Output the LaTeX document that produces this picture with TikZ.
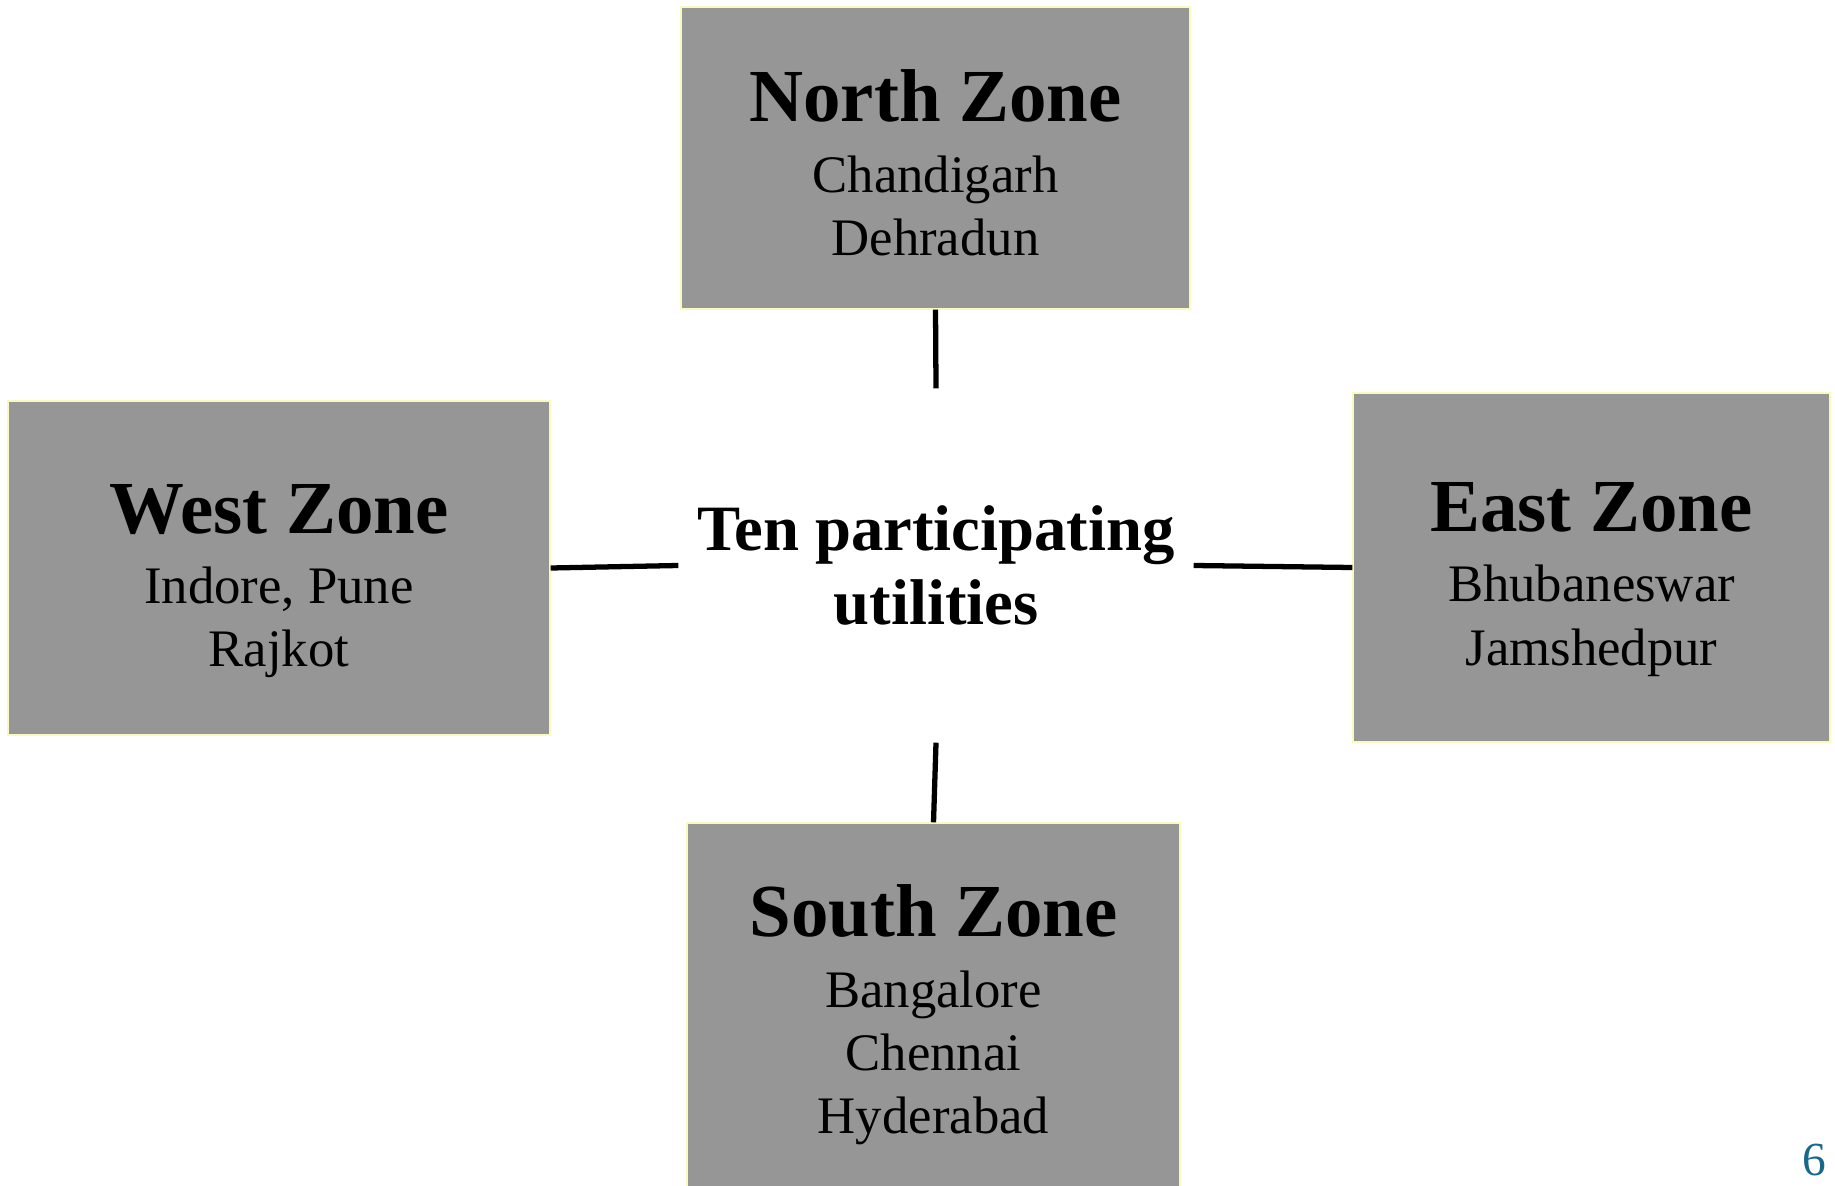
\documentclass[tikz,border=0pt]{standalone}
\usepackage{fontspec}
\setmainfont{Liberation Serif}
\usepackage{xcolor}
\usepackage{tikz}
\usetikzlibrary{positioning}

\definecolor{zonegray}{RGB}{150,150,150}
\definecolor{zoneedge}{RGB}{250,250,190}
\definecolor{pageblue}{RGB}{22,104,140}

\newcommand{\zonetitle}[1]{{\fontsize{21.3}{25}\selectfont\bfseries #1}\\[2pt]}

\begin{document}
\begin{tikzpicture}[x=0.1mm, y=-0.1mm,
    zonebox/.style={fill=zonegray, draw=zoneedge, line width=0.4pt,
      inner sep=0pt},
    zonetext/.style={align=center, inner sep=0pt,
      font=\fontsize{15}{18}\selectfont},
    hubtext/.style={align=center, inner sep=0pt,
      font=\fontsize{18.4}{21}\selectfont\bfseries},
    link/.style={line width=1.5pt}]

    \useasboundingbox (0, 0) rectangle (1835, 1186);

    \node[zonebox, minimum width=50.9mm, minimum height=30.2mm] (north)
      at (935.5, 158) {};
    \node[zonebox, minimum width=54.2mm, minimum height=33.4mm] (west)
      at (279, 568) {};
    \node[zonebox, minimum width=47.7mm, minimum height=34.9mm] (east)
      at (1591.5, 567.5) {};
    \node[zonebox, minimum width=49.3mm, minimum height=37.7mm] (south)
      at (933.5, 1011.5) {};

    \node[zonetext] (northtext) at ([yshift=-1.4pt]north.center)
      {\zonetitle{North Zone} Chandigarh\\ Dehradun};
    \node[zonetext] (westtext) at ([yshift=-3.7pt]west.center)
      {\zonetitle{West Zone} Indore, Pune\\ Rajkot};
    \node[zonetext] (easttext) at ([yshift=-3.4pt]east.center)
      {\zonetitle{East Zone} Bhubaneswar\\ Jamshedpur};
    \node[zonetext] (southtext) at ([yshift=-1pt]south.center)
      {\zonetitle{South Zone} Bangalore\\ Chennai\\ Hyderabad};

    \node[hubtext, minimum width=51.4mm, minimum height=35.3mm] (hub)
      at (936, 565.5) {Ten participating\\ utilities};

    \draw[link] (north.south) -- (hub.north);
    \draw[link] (west.east) -- (hub.west);
    \draw[link] (hub.east) -- (east.west);
    \draw[link] (hub.south) -- (south.north);

    \node[text=pageblue, font=\fontsize{13.5}{16}\selectfont, inner sep=0pt]
      (page) at (1814, 1160) {6};

  \end{tikzpicture}
\end{document}
